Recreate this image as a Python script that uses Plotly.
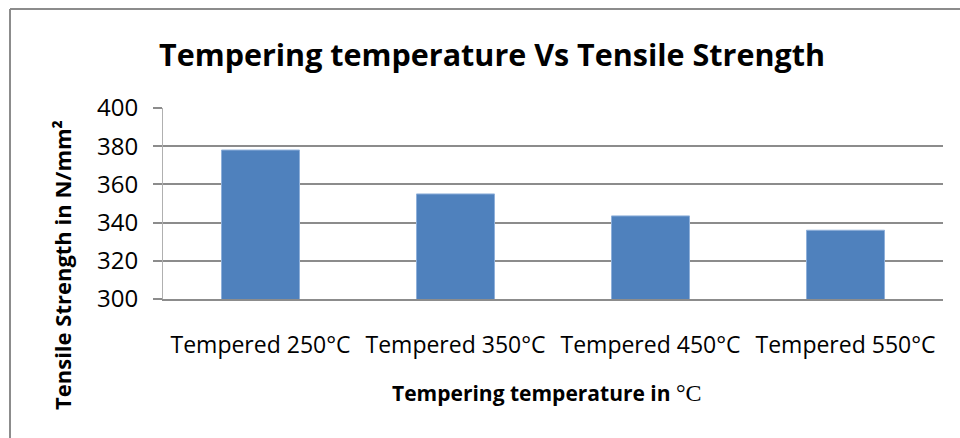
import plotly.graph_objects as go

categories = ["Tempered 250°C", "Tempered 350°C", "Tempered 450°C", "Tempered 550°C"]
strength = [378, 355, 343.5, 336]
y_ticks = [300, 320, 340, 360, 380, 400]

title_text = "Tempering temperature Vs Tensile Strength"
x_title = ("Tempering temperature in "
           "<span style='font-family:Liberation Serif;font-weight:normal;font-size:24px'>°C</span>")
y_title = "Tensile Strength in N/mm²"

W, H = 960, 438
L, R, T, B = 163, 17, 108, 139
PW, PH = W - L - R, H - T - B


def px(x):
    return (x - L) / PW


def py(y):
    return (H - B - y) / PH


fig = go.Figure()
fig.add_trace(go.Bar(
    x=categories, y=strength,
    marker=dict(color="#4F81BD", line=dict(color="#8FB0DA", width=1)),
    width=0.4,
))

fig.update_layout(
    width=W, height=H,
    margin=dict(l=L, r=R, t=T, b=B),
    paper_bgcolor="white", plot_bgcolor="white",
    showlegend=False,
    font=dict(family="Open Sans", color="black"),
    xaxis=dict(
        showgrid=False, showline=True, linecolor="#8C8C8C", linewidth=2,
        tickfont=dict(size=23, family="Open Sans", color="black"),
        ticks="", ticklabelstandoff=24,
    ),
    yaxis=dict(
        range=[300, 400], tickvals=y_ticks,
        showgrid=True, gridcolor="#8C8C8C", gridwidth=2,
        showline=True, linecolor="#B0B0B0", linewidth=1,
        ticks="outside", ticklen=9, tickcolor="#8C8C8C", tickwidth=2,
        tickfont=dict(size=24, family="Open Sans", color="black"),
        ticklabelstandoff=10,
        zeroline=False,
    ),
    annotations=[
        dict(text="<b>" + title_text + "</b>", xref="paper", yref="paper",
             x=px(492), y=py(54),
             xanchor="center", yanchor="middle", showarrow=False,
             font=dict(size=30.5, family="Open Sans", color="black")),
        dict(text="<b>" + x_title + "</b>", xref="paper", yref="paper",
             x=px(547), y=py(393),
             xanchor="center", yanchor="middle", showarrow=False,
             font=dict(size=21, family="Open Sans", color="black")),
        dict(text="<b>" + y_title + "</b>", xref="paper", yref="paper",
             x=px(62), y=py(265),
             xanchor="center", yanchor="middle", showarrow=False, textangle=-90,
             font=dict(size=22, family="Open Sans", color="black")),
    ],
    shapes=[
        dict(type="line", xref="paper", yref="paper",
             x0=px(10), x1=px(W + 5), y0=py(9), y1=py(9),
             line=dict(color="#8C8C8C", width=2)),
        dict(type="line", xref="paper", yref="paper",
             x0=px(10), x1=px(10), y0=py(9), y1=py(H + 5),
             line=dict(color="#8C8C8C", width=2)),
    ],
)

fig.write_html("out.html", config={"displayModeBar": False},
               post_script="document.body.style.margin='0';")
